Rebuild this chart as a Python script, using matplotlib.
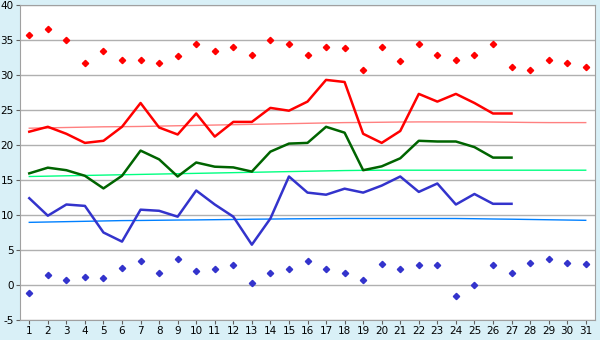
import matplotlib
matplotlib.use('Agg')
import matplotlib.pyplot as plt

plt.rcParams['axes.unicode_minus'] = False

days = list(range(1, 32))
line_days = list(range(1, 28))

max_abs = [35.7, 36.6, 34.95, 31.7, 33.4, 32.2, 32.2, 31.7, 32.7, 34.4,
           33.4, 34.0, 32.8, 34.95, 34.4, 32.8, 34.0, 33.8, 30.7, 34.0,
           32.0, 34.4, 32.8, 32.2, 32.8, 34.4, 31.1, 30.7, 32.2, 31.7, 31.1]
min_abs = [-1.1, 1.5, 0.67, 1.1, 0.95, 2.4, 3.4, 1.67, 3.67, 1.95,
           2.24, 2.8, 0.24, 1.67, 2.24, 3.4, 2.24, 1.67, 0.67, 2.95,
           2.24, 2.8, 2.8, -1.6, 0.0, 2.8, 1.67, 3.1, 3.67, 3.1, 2.95]

t_max = [21.9, 22.6, 21.6, 20.3, 20.6, 22.6, 26.0, 22.5, 21.5, 24.5,
         21.2, 23.3, 23.3, 25.3, 24.9, 26.2, 29.3, 29.0, 21.6, 20.3,
         22.0, 27.3, 26.2, 27.3, 26.0, 24.5, 24.5]
t_mean = [15.95, 16.76, 16.4, 15.6, 13.8, 15.6, 19.2, 17.95, 15.5, 17.5,
          16.9, 16.8, 16.2, 19.05, 20.2, 20.3, 22.6, 21.76, 16.4, 16.95,
          18.1, 20.6, 20.5, 20.5, 19.7, 18.2, 18.2]
t_min = [12.4, 9.9, 11.5, 11.3, 7.5, 6.2, 10.76, 10.6, 9.76, 13.5,
         11.5, 9.76, 5.76, 9.5, 15.5, 13.2, 12.9, 13.76, 13.2, 14.2,
         15.5, 13.3, 14.5, 11.5, 13.0, 11.6, 11.6]

norm_max = [22.4, 22.45, 22.5, 22.55, 22.6, 22.62, 22.65, 22.7, 22.75, 22.8,
            22.85, 22.9, 22.95, 23.0, 23.05, 23.1, 23.15, 23.2, 23.22, 23.25,
            23.28, 23.3, 23.3, 23.3, 23.3, 23.28, 23.25, 23.22, 23.2, 23.2, 23.2]
norm_mean = [15.5, 15.55, 15.6, 15.65, 15.7, 15.75, 15.8, 15.85, 15.9, 15.95,
             16.0, 16.05, 16.1, 16.15, 16.2, 16.25, 16.3, 16.35, 16.38, 16.4,
             16.4, 16.4, 16.4, 16.4, 16.4, 16.4, 16.4, 16.4, 16.4, 16.4, 16.4]
norm_min = [8.95, 9.0, 9.05, 9.1, 9.15, 9.2, 9.22, 9.25, 9.28, 9.3,
            9.33, 9.36, 9.4, 9.42, 9.45, 9.47, 9.48, 9.5, 9.5, 9.5,
            9.5, 9.5, 9.5, 9.5, 9.47, 9.43, 9.4, 9.36, 9.32, 9.28, 9.24]

fig = plt.figure(figsize=(6, 3.4), dpi=100, facecolor='#d9f0f7')
ax = fig.add_axes([20/600, 20/340, 575/600, 315/340])
ax.set_facecolor('white')

ax.plot(days, norm_max, color='#ff8080', lw=1)
ax.plot(days, norm_mean, color='#00ff80', lw=1)
ax.plot(days, norm_min, color='#0080ff', lw=1)

ax.plot(line_days, t_max, color='#ff0000', lw=1.8)
ax.plot(line_days, t_mean, color='#006400', lw=1.8)
ax.plot(line_days, t_min, color='#3333cc', lw=1.8)

ax.plot(days, max_abs, 'D', color='#ff0000', ms=3.2, ls='none')
ax.plot(days, min_abs, 'D', color='#3333cc', ms=3.2, ls='none')

ax.set_xlim(0.5, 31.5)
ax.set_ylim(-5, 40)
ax.set_xticks(days)
ax.set_yticks(range(-5, 41, 5))
ax.yaxis.grid(True, color='#b0b0b0', lw=1)
ax.set_axisbelow(True)
for s in ax.spines.values():
    s.set_color('#a0a0a0')
ax.tick_params(labelsize=7.5, length=3, color='#606060', pad=1.5)
fig.savefig('out.png', dpi=100, facecolor=fig.get_facecolor())
